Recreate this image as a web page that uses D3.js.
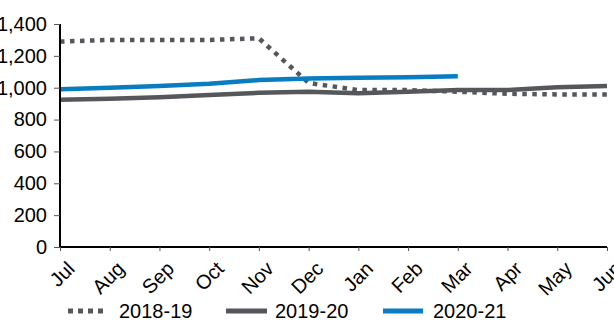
<!DOCTYPE html>
<html>
<head>
<meta charset="utf-8">
<script src="https://cdn.jsdelivr.net/npm/d3@7"></script>
<style>
  html, body { margin: 0; padding: 0; background: #fff; }
  svg { display: block; font-family: "Liberation Sans", Arial, sans-serif; }
</style>
</head>
<body>
<svg id="chart" width="614" height="320"></svg>
<script>
// Months of the financial year (July to June)
const months = ["Jul", "Aug", "Sep", "Oct", "Nov", "Dec", "Jan", "Feb", "Mar", "Apr", "May", "Jun"];

// Monthly values per financial year
const fy2018_19 = [1290, 1300, 1300, 1300, 1310, 1030, 985, 985, 975, 962, 958, 958];
const fy2019_20 = [925, 930, 940, 955, 968, 975, 965, 975, 985, 985, 1003, 1010];
const fy2020_21 = [990, 1000, 1010, 1025, 1048, 1058, 1062, 1065, 1072];

const yTicks = [0, 200, 400, 600, 800, 1000, 1200, 1400];

const seriesNames = ["2018-19", "2019-20", "2020-21"];

const GREY = "#55575b";
const BLUE = "#0a7cc2";

const series = [
  { name: seriesNames[0], values: fy2018_19, color: GREY, dash: "4.5,5.5" },
  { name: seriesNames[1], values: fy2019_20, color: GREY, dash: null },
  { name: seriesNames[2], values: fy2020_21, color: BLUE, dash: null }
];

const svg = d3.select("#chart");

const x = d3.scalePoint().domain(months).range([60, 607]);
const y = d3.scaleLinear().domain([0, 1400]).range([247, 24]);

// Lines
const line = d3.line()
  .x((d, i) => x(months[i]))
  .y(d => y(d));

svg.append("g").selectAll("path")
  .data(series)
  .join("path")
  .attr("d", d => line(d.values))
  .attr("fill", "none")
  .attr("stroke", d => d.color)
  .attr("stroke-width", 4.5)
  .attr("stroke-dasharray", d => d.dash)
  .attr("stroke-linejoin", "round");

// Y axis
const yAxis = svg.append("g")
  .attr("transform", "translate(60,0)")
  .call(d3.axisLeft(y).tickValues(yTicks).tickSize(6).tickPadding(7)
    .tickFormat(d3.format(",")));
yAxis.select(".domain").attr("stroke", "#000").attr("stroke-width", 2)
  .attr("d", `M0,${y(0)}V${y(1400)}`);
yAxis.selectAll(".tick line").attr("stroke", "#555");
yAxis.selectAll(".tick text")
  .attr("font-size", 20)
  .attr("fill", "#000")
  .attr("font-family", "Liberation Sans, Arial, sans-serif");

// X axis
const xAxis = svg.append("g")
  .attr("transform", `translate(0,${y(0)})`)
  .call(d3.axisBottom(x).tickSize(4).tickFormat(""));
xAxis.select(".domain").attr("stroke", "#000").attr("stroke-width", 2)
  .attr("d", `M60,0H607`);
xAxis.selectAll(".tick line").attr("stroke", "#555");

svg.append("g").selectAll("text")
  .data(months)
  .join("text")
  .attr("transform", d => `translate(${x(d) + 16},${y(0) + 23}) rotate(-45)`)
  .attr("text-anchor", "end")
  .attr("font-size", 20)
  .attr("fill", "#000")
  .text(d => d);

// Legend
const legendItems = [
  { s: series[0], x0: 68, x1: 104, tx: 119 },
  { s: series[1], x0: 226, x1: 267, tx: 275 },
  { s: series[2], x0: 383, x1: 423, tx: 433 }
];
const lg = svg.append("g");
lg.selectAll("line")
  .data(legendItems)
  .join("line")
  .attr("x1", d => d.x0).attr("x2", d => d.x1)
  .attr("y1", 311).attr("y2", 311)
  .attr("stroke", d => d.s.color)
  .attr("stroke-width", 5)
  .attr("stroke-dasharray", d => d.s.dash ? "5,5" : null);
lg.selectAll("text")
  .data(legendItems)
  .join("text")
  .attr("x", d => d.tx)
  .attr("y", 318)
  .attr("font-size", 20)
  .attr("fill", "#000")
  .text(d => d.s.name);
</script>
</body>
</html>
